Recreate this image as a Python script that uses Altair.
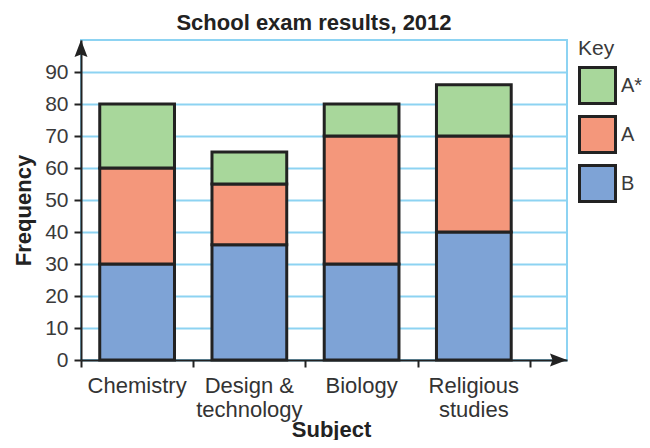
import altair as alt
import pandas as pd

# ---- data ----
subjects = ["Chemistry", "Design &\ntechnology", "Biology", "Religious\nstudies"]
grades = ["B", "A", "A*"]
count_B = [30, 36, 30, 40]
count_A = [30, 19, 40, 30]
count_Astar = [20, 10, 10, 16]
y_ticks = [0, 10, 20, 30, 40, 50, 60, 70, 80, 90]
x_ticks = [0, 1, 2, 3, 4]
legend_order = ["A*", "A", "B"]
legend_colors = ["#a8d79b", "#f4977b", "#7ea3d6"]

X_MAX = 4.33
Y_MAX = 100
FONT = "Liberation Sans"
INK = "#222222"
GRID = "#8dd3f2"

rows = []
for i, s in enumerate(subjects):
    base = 0
    for g, vals in zip(grades, [count_B, count_A, count_Astar]):
        v = vals[i]
        rows.append({"subject": s, "idx": i, "grade": g, "base": base, "top": base + v})
        base += v
df = pd.DataFrame(rows)
labels_df = pd.DataFrame({"subject": subjects, "idx": list(range(len(subjects)))})

x_scale = alt.Scale(domain=[0, X_MAX], nice=False, zero=False)
y_scale = alt.Scale(domain=[0, Y_MAX], nice=False, zero=False)

x_axis = alt.Axis(
    values=x_ticks, labels=False, grid=False,
    domainColor=INK, domainWidth=2, tickColor=INK, tickWidth=2, tickSize=7,
    title="Subject", titleFont=FONT, titleFontSize=22, titleFontWeight="bold",
    titleColor=INK, titleX=250, titleY=76, titleBaseline="alphabetic",
)
y_axis = alt.Axis(
    values=y_ticks, grid=True, gridColor=GRID, gridWidth=2, labelOverlap=False,
    domainColor=INK, domainWidth=2, tickColor=INK, tickWidth=2, tickSize=7,
    labelFont=FONT, labelFontSize=21, labelColor="#3a3a3a", labelPadding=6,
    title="Frequency", titleFont=FONT, titleFontSize=22, titleFontWeight="bold",
    titleColor=INK, titleX=-51, titleY=170, titleBaseline="alphabetic",
    titleAngle=270, titleAlign="center",
)

bars = alt.Chart(df).transform_calculate(
    left="datum.idx + 0.167", right="datum.idx + 0.833"
).mark_bar(stroke=INK, strokeWidth=3, opacity=1).encode(
    x=alt.X("left:Q", scale=x_scale, axis=x_axis),
    x2="right:Q",
    y=alt.Y("base:Q", scale=y_scale, axis=y_axis),
    y2="top:Q",
    color=alt.Color(
        "grade:N",
        scale=alt.Scale(domain=legend_order, range=legend_colors),
        legend=alt.Legend(
            title="Key", orient="none", legendX=497, legendY=-2, padding=0,
            titleFont=FONT, titleFontSize=21, titleFontWeight="normal",
            titleColor="#3a3a3a", titlePadding=7,
            labelFont=FONT, labelFontSize=20, labelColor="#3a3a3a", labelOffset=4,
            symbolType="square", symbolSize=1296, symbolStrokeColor=INK,
            symbolStrokeWidth=3, symbolOpacity=1, rowPadding=0,
        ),
    ),
)

xlabels = alt.Chart(labels_df).transform_calculate(
    center="datum.idx + 0.5"
).mark_text(
    font=FONT, fontSize=22, color="#333333", lineBreak="\n", lineHeight=24,
    baseline="alphabetic", align="center", dy=33,
).encode(
    x=alt.X("center:Q", scale=x_scale, axis=x_axis),
    y=alt.YDatum(0, scale=y_scale, axis=y_axis),
    text="subject:N",
)

one = pd.DataFrame({"k": [0]})
up_arrow = alt.Chart(one).mark_point(
    shape="M0,0L-0.65,1.7L0,1.45L0.65,1.7Z", size=400, filled=True,
    color=INK, opacity=1, strokeWidth=0,
).encode(
    x=alt.XDatum(0, scale=x_scale, axis=x_axis),
    y=alt.YDatum(Y_MAX, scale=y_scale, axis=y_axis),
)
right_arrow = alt.Chart(one).mark_point(
    shape="M0,0L-1.7,-0.65L-1.45,0L-1.7,0.65Z", size=400, filled=True,
    color=INK, opacity=1, strokeWidth=0,
).encode(
    x=alt.XDatum(X_MAX, scale=x_scale, axis=x_axis),
    y=alt.YDatum(0, scale=y_scale, axis=y_axis),
)

chart = alt.layer(bars, xlabels, up_arrow, right_arrow).properties(
    width=486, height=320,
    title=alt.TitleParams(
        "School exam results, 2012", font=FONT, fontSize=22, fontWeight="bold",
        color=INK, anchor="middle", dx=-10, dy=18, offset=4, baseline="alphabetic",
    ),
    autosize=alt.AutoSizeParams(type="none"),
    padding={"left": 73, "top": 32, "right": 75, "bottom": 80},
).configure_view(stroke=GRID, strokeWidth=2)

chart.save("out.html", embed_options={"renderer": "svg", "actions": False})
